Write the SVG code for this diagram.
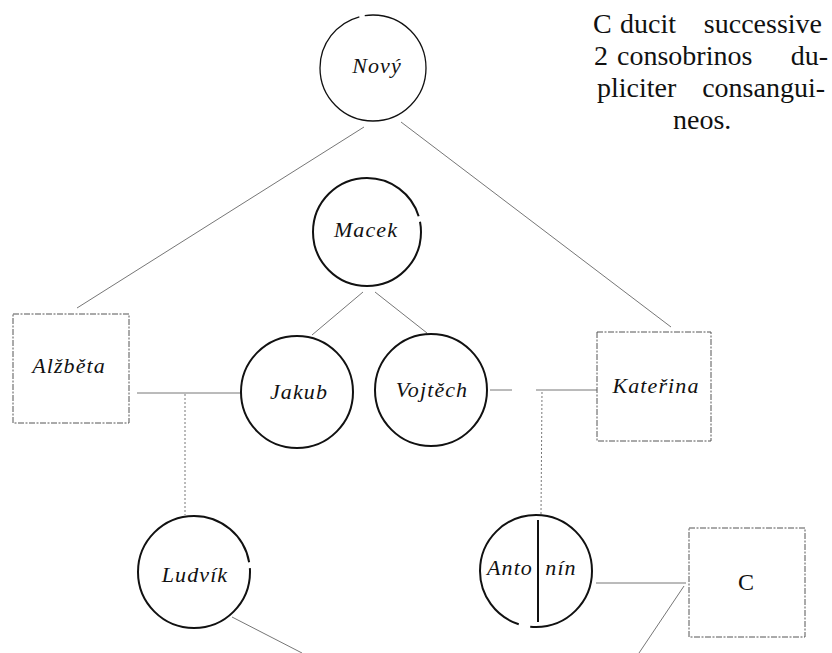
<svg xmlns="http://www.w3.org/2000/svg" width="832" height="653" viewBox="0 0 832 653">
  <style>
    .person { fill: none; stroke: #111; stroke-width: 2; }
    .thin { stroke-width: 1.3; }
    .box { fill: none; stroke: #555; stroke-width: 1; stroke-dasharray: 6 1.5 2 1.5; }
    .name { font-family: "Liberation Serif", serif; font-style: italic; font-size: 22px; letter-spacing: 1.1px; fill: #111; text-anchor: middle; }
    .link { fill: none; stroke: #666; stroke-width: 0.9; }
    .dotted { stroke-dasharray: 2 2; }
    .note { font-family: "Liberation Serif", serif; font-size: 28px; fill: #111; }
  </style>
  <rect width="832" height="653" fill="#fff"/>

  <g id="connectors">
    <line class="link" x1="364" y1="127" x2="77" y2="308"/>
    <line class="link" x1="401" y1="122" x2="671" y2="327"/>
    <line class="link" x1="363" y1="292" x2="312" y2="335"/>
    <line class="link" x1="375" y1="292" x2="427" y2="333"/>
    <line class="link" x1="137" y1="393" x2="241" y2="393"/>
    <line class="link dotted" x1="185" y1="394" x2="185" y2="515"/>
    <line class="link" x1="490" y1="390" x2="512" y2="390"/>
    <line class="link" x1="536" y1="390" x2="597" y2="390"/>
    <line class="link dotted" x1="542" y1="392" x2="541" y2="515"/>
    <line class="link" x1="232" y1="617" x2="302" y2="653"/>
    <line class="link" x1="596" y1="583" x2="686" y2="583"/>
    <line class="link" x1="684" y1="586" x2="639" y2="653"/>
  </g>

  <!-- pen circles keep the small breaks of a hand-drawn stroke -->
  <g id="novy">
    <circle class="person thin" cx="373" cy="68" r="53" pathLength="360" stroke-dasharray="255 6 99"/>
    <text class="name" x="377" y="73" letter-spacing="2.2">Nový</text>
  </g>
  <g id="macek">
    <circle class="person" cx="367" cy="232" r="54" pathLength="360" stroke-dasharray="343 6 11"/>
    <text class="name" x="366" y="237">Macek</text>
  </g>
  <g id="alzbeta">
    <rect class="box" x="13" y="314" width="116" height="109"/>
    <text class="name" x="69" y="373">Alžběta</text>
  </g>
  <g id="jakub">
    <circle class="person" cx="297" cy="392" r="56"/>
    <text class="name" x="299" y="399">Jakub</text>
  </g>
  <g id="vojtech">
    <circle class="person" cx="431" cy="390" r="56"/>
    <text class="name" x="432" y="397">Vojtěch</text>
  </g>
  <g id="katerina">
    <rect class="box" x="597" y="332" width="114" height="109"/>
    <text class="name" x="656" y="393">Kateřina</text>
  </g>
  <g id="ludvik">
    <circle class="person" cx="194" cy="572" r="56" pathLength="360" stroke-dasharray="350 6 4"/>
    <text class="name" x="195" y="582" letter-spacing="1.6">Ludvík</text>
  </g>
  <g id="antonin">
    <circle class="person" cx="536" cy="571" r="56" pathLength="360" stroke-dasharray="96 12 252"/>
    <line class="person" x1="538" y1="520" x2="538" y2="622"/>
    <text class="name" x="510" y="575">Anto</text>
    <text class="name" x="561" y="575">nín</text>
  </g>
  <g id="c">
    <rect class="box" x="689" y="528" width="116" height="109"/>
    <text x="746" y="590" font-family="Liberation Serif, serif" font-size="24" fill="#111" text-anchor="middle">C</text>
  </g>

  <!-- justified paragraph: words placed so each line fills the column -->
  <g id="note" class="note">
    <text y="33"><tspan x="593">C</tspan><tspan x="620">ducit</tspan><tspan x="822" text-anchor="end">successive</tspan></text>
    <text y="65"><tspan x="594">2</tspan><tspan x="617">consobrinos</tspan><tspan x="828" text-anchor="end">du-</tspan></text>
    <text y="97"><tspan x="597">pliciter</tspan><tspan x="825" text-anchor="end">consangui-</tspan></text>
    <text y="129" x="673">neos.</text>
  </g>
</svg>
